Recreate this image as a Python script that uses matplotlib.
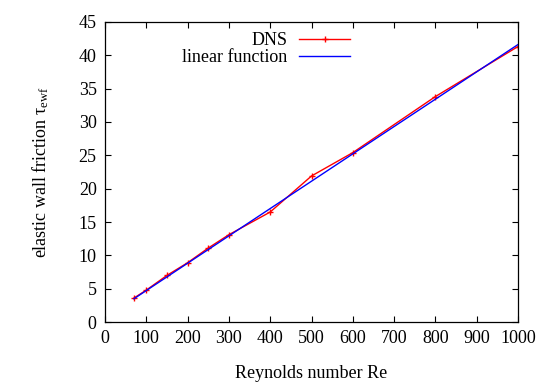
import matplotlib
matplotlib.use('Agg')
import matplotlib.pyplot as plt

# DNS data
re_dns = [70, 100, 150, 200, 250, 300, 400, 500, 600, 800, 1000]
tau_dns = [3.6, 4.8, 7.0, 8.9, 11.1, 13.1, 16.5, 21.9, 25.4, 33.8, 41.3]

# linear function, end points
re_lin = [70, 1000]
tau_lin = [3.5, 41.6]

xticks = list(range(0, 1001, 100))
yticks = list(range(0, 46, 5))

plt.rcParams['font.family'] = ['Liberation Serif', 'DejaVu Serif']
plt.rcParams['mathtext.fontset'] = 'stix'
plt.rcParams['font.size'] = 13

fig = plt.figure(figsize=(5.47, 3.83), dpi=100)
ax = fig.add_axes([0.192, 0.159, 0.755, 0.784])

ax.plot(re_dns, tau_dns, color='red', lw=1.0, marker='+', ms=5, mew=1.0, label='DNS')
ax.plot(re_lin, tau_lin, color='blue', lw=1.0, label='linear function')

ax.set_xlim(0, 1000)
ax.set_ylim(0, 45)
ax.set_xticks(xticks)
ax.set_yticks(yticks)
ax.tick_params(direction='in', top=True, right=True, length=4, width=0.8, pad=6)
for s in ax.spines.values():
    s.set_linewidth(0.9)

ax.set_xlabel('Reynolds number Re', labelpad=13)
ax.set_ylabel(r'elastic wall friction $\mathregular{\tau}_{\mathregular{ewf}}$', labelpad=20)

ax.legend(loc='upper right', bbox_to_anchor=(350 / 547, 1 - 32 / 383),
          bbox_transform=fig.transFigure, frameon=False, markerfirst=False,
          handlelength=2.8, handletextpad=0.65, labelspacing=0.0,
          borderaxespad=0, borderpad=0)

fig.savefig('out.png', dpi=100)
